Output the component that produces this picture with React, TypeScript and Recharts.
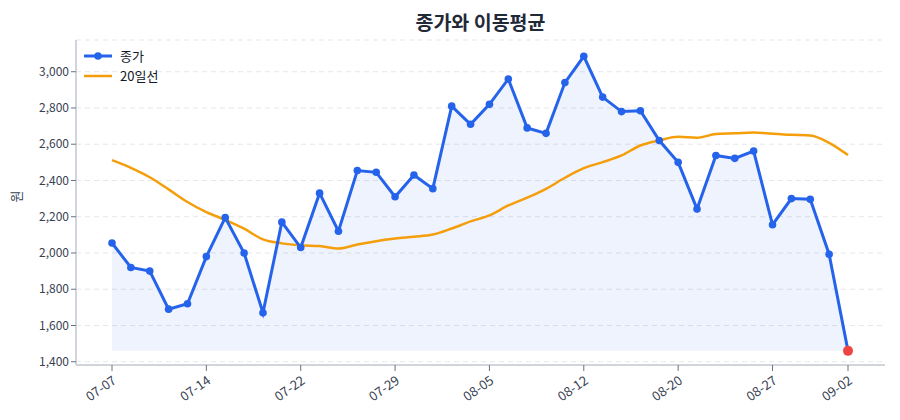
import React from 'react';
import {
  ComposedChart,
  Area,
  Line,
  XAxis,
  YAxis,
  CartesianGrid,
} from 'recharts';

const dates = [
  '07-07', '07-08', '07-09', '07-10', '07-11',
  '07-14', '07-15', '07-16', '07-17', '07-18',
  '07-22', '07-23', '07-24', '07-25', '07-28',
  '07-29', '07-30', '07-31', '08-01', '08-04',
  '08-05', '08-06', '08-07', '08-08', '08-11',
  '08-12', '08-13', '08-14', '08-18', '08-19',
  '08-20', '08-21', '08-22', '08-25', '08-26',
  '08-27', '08-28', '08-29', '09-01', '09-02',
];

const close = [
  2055, 1920, 1900, 1690, 1720, 1980, 2195, 2000, 1670, 2170,
  2030, 2330, 2120, 2455, 2445, 2310, 2430, 2355, 2810, 2710,
  2820, 2960, 2690, 2660, 2940, 3085, 2860, 2780, 2785, 2620,
  2500, 2243, 2538, 2522, 2562, 2156, 2300, 2296, 1993, 1460,
];

const ma20 = [
  2512, 2470, 2418, 2351, 2281, 2225, 2183, 2134, 2075, 2053,
  2042, 2038, 2025, 2047, 2065, 2080, 2090, 2102, 2135, 2174,
  2207, 2262, 2305, 2354, 2415, 2468, 2501, 2538, 2593, 2621,
  2641, 2636, 2656, 2660, 2665, 2658, 2652, 2648, 2608, 2540,
];

const xTicks = ['07-07', '07-14', '07-22', '07-29', '08-05', '08-12', '08-20', '08-27', '09-02'];
const yTicks = [1400, 1600, 1800, 2000, 2200, 2400, 2600, 2800, 3000];

const data = dates.map((d, i) => ({ date: d, close: close[i], ma20: ma20[i] }));
const minClose = Math.min(...close);

const FONT = '"Noto Sans CJK KR", "Noto Sans", sans-serif';
const BLUE = '#2563eb';
const ORANGE = '#f59e0b';

const CloseDot = (props: any) => {
  const { cx, cy, index } = props;
  if (cx == null || cy == null) return null;
  const last = index === data.length - 1;
  return <circle key={`d-${index}`} cx={cx} cy={cy} r={last ? 5 : 3.8} fill={last ? '#ef4444' : BLUE} />;
};

// legend drawn as plain html over the plot, top-left
const LegendBox = () => (
  <div
    style={{
      position: 'absolute',
      left: 84,
      top: 46,
      fontFamily: FONT,
      fontSize: 13,
      color: '#111827',
      lineHeight: '20px',
    }}
  >
    <div style={{ display: 'flex', alignItems: 'center' }}>
      <svg width={28} height={12} style={{ marginRight: 8 }}>
        <line x1={0} y1={6} x2={28} y2={6} stroke={BLUE} strokeWidth={3} />
        <circle cx={14} cy={6} r={3.8} fill={BLUE} />
      </svg>
      <span>종가</span>
    </div>
    <div style={{ display: 'flex', alignItems: 'center' }}>
      <svg width={28} height={12} style={{ marginRight: 8 }}>
        <line x1={0} y1={6} x2={28} y2={6} stroke={ORANGE} strokeWidth={2.5} />
      </svg>
      <span>20일선</span>
    </div>
  </div>
);

export default function App() {
  return (
    <div style={{ position: 'absolute', left: 0, top: 0, width: 900, height: 420, background: '#fff', fontFamily: FONT }}>
      <div
        style={{
          position: 'absolute',
          left: 76,
          width: 809,
          top: 7,
          textAlign: 'center',
          fontSize: 19.5,
          fontWeight: 700,
          color: '#1f2937',
        }}
      >
        종가와 이동평균
      </div>
      <ComposedChart
        width={900}
        height={420}
        data={data}
        margin={{ top: 40, right: 15, left: 0, bottom: 10 }}
      >
        <CartesianGrid vertical={false} stroke="#e5e7eb" strokeDasharray="5 4" />
        <XAxis
          dataKey="date"
          scale="point"
          padding={{ left: 36, right: 37 }}
          ticks={xTicks}
          interval={0}
          height={45}
          angle={-35}
          textAnchor="end"
          dy={2}
          tick={{ fontSize: 13, fill: '#374151', fontFamily: FONT }}
          tickLine={{ stroke: '#6b7280' }}
          tickSize={6}
          axisLine={{ stroke: '#d1d5db', strokeWidth: 2 }}
        />
        <YAxis
          domain={[1382, 3175]}
          ticks={yTicks}
          width={76}
          tickFormatter={(v: number) => v.toLocaleString('en-US')}
          tick={{ fontSize: 12, fill: '#374151', fontFamily: FONT }}
          tickLine={{ stroke: '#6b7280' }}
          tickSize={5}
          axisLine={{ stroke: '#d1d5db', strokeWidth: 2 }}
          label={{ value: '원', angle: -90, position: 'insideLeft', offset: 16, style: { fontSize: 13, fill: '#374151', fontFamily: FONT } }}
        />
        <Area
          type="linear"
          dataKey="close"
          baseValue={minClose}
          stroke="none"
          fill={BLUE}
          fillOpacity={0.08}
          isAnimationActive={false}
        />
        <Line
          type="monotone"
          dataKey="ma20"
          stroke={ORANGE}
          strokeWidth={2.5}
          dot={false}
          isAnimationActive={false}
        />
        <Line
          type="linear"
          dataKey="close"
          stroke={BLUE}
          strokeWidth={3}
          dot={CloseDot}
          activeDot={false}
          isAnimationActive={false}
        />
      </ComposedChart>
      <LegendBox />
    </div>
  );
}
